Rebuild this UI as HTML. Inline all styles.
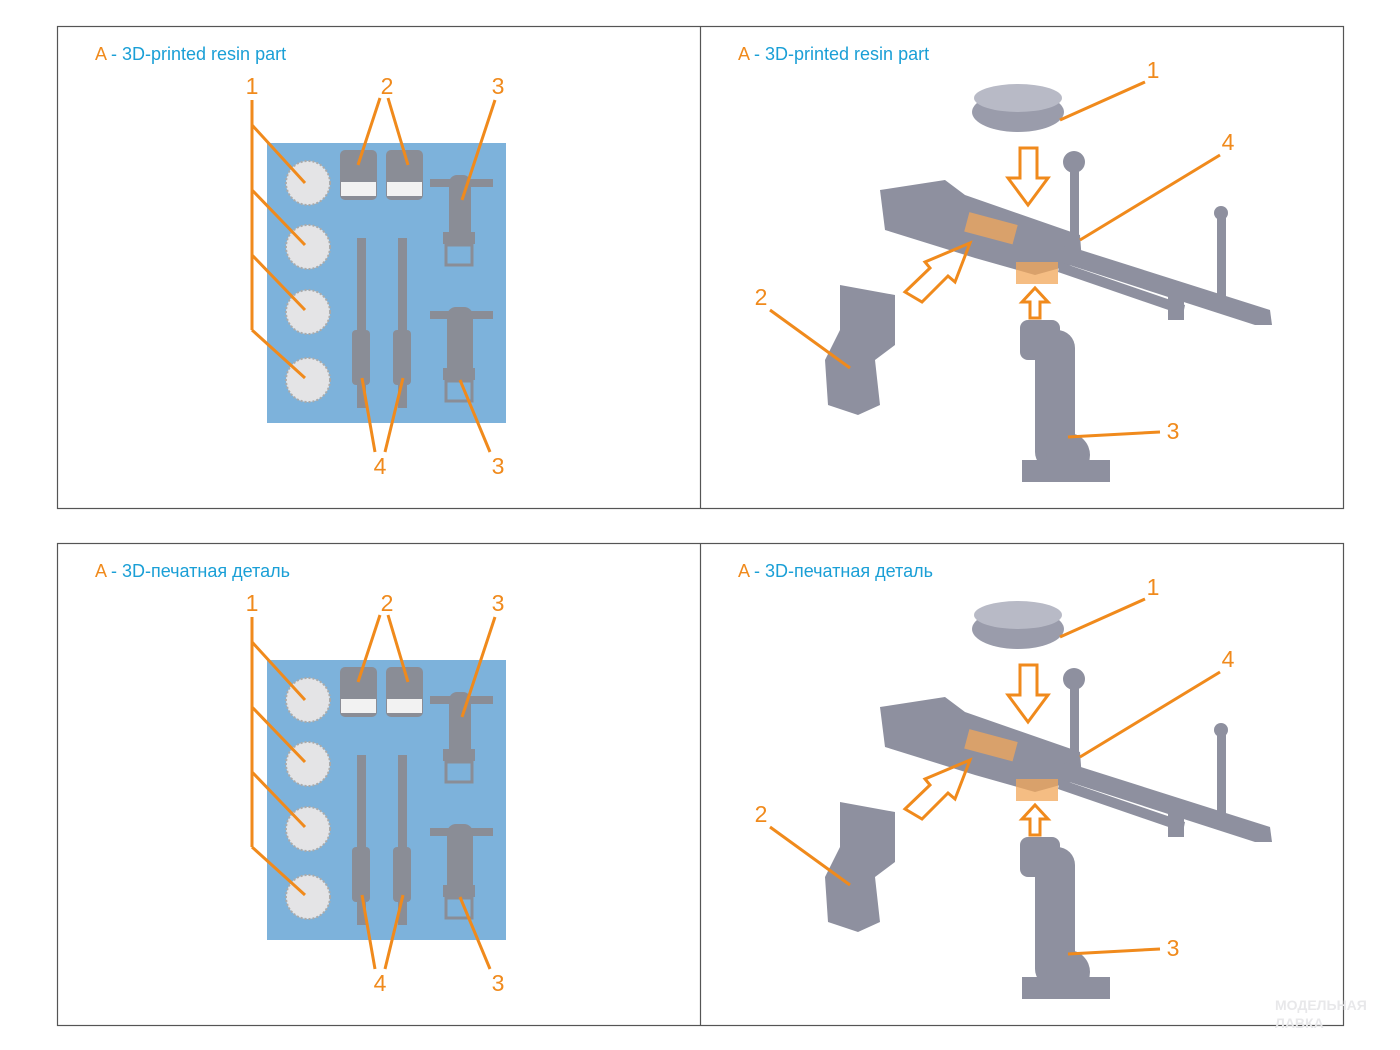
<!DOCTYPE html>
<html><head><meta charset="utf-8"><style>
html,body{margin:0;padding:0;background:#fff;}
svg{display:block;font-family:"Liberation Sans","Noto Sans CJK SC",sans-serif;}
</style></head><body>
<svg width="1400" height="1050" viewBox="0 0 1400 1050" xmlns="http://www.w3.org/2000/svg">
<defs>
<g id="pL">
  <rect x="267" y="143" width="239" height="280" fill="#7db2db"/>
  <g fill="#e4e4e6" stroke="#aaa" stroke-width="2" stroke-dasharray="2 2">
    <circle cx="308" cy="183" r="22"/><circle cx="308" cy="247" r="22"/>
    <circle cx="308" cy="312" r="22"/><circle cx="308" cy="380" r="22"/>
  </g>
  <g fill="#8a8d96">
    <rect x="340" y="150" width="37" height="50" rx="5"/><rect x="386" y="150" width="37" height="50" rx="5"/>
    <rect x="341" y="182" width="35" height="14" fill="#f2f2f2"/><rect x="387" y="182" width="35" height="14" fill="#f2f2f2"/>
    <rect x="357" y="238" width="9" height="170"/><rect x="398" y="238" width="9" height="170"/>
    <rect x="352" y="330" width="18" height="55" rx="4"/><rect x="393" y="330" width="18" height="55" rx="4"/>
    <rect x="430" y="179" width="63" height="8"/><rect x="449" y="175" width="22" height="70" rx="8"/>
    <rect x="443" y="232" width="32" height="12"/><rect x="446" y="245" width="26" height="20" fill="none" stroke="#8a8d96" stroke-width="3"/>
    <rect x="430" y="311" width="63" height="8"/><rect x="447" y="307" width="26" height="70" rx="9"/>
    <rect x="443" y="368" width="32" height="12"/><rect x="446" y="381" width="26" height="20" fill="none" stroke="#8a8d96" stroke-width="3"/>
  </g>
  <g stroke="#f08a1c" stroke-width="3" fill="none">
    <path d="M252 100 V330 M252 125 L305 183 M252 190 L305 245 M252 255 L305 310 M252 330 L305 378"/>
    <path d="M380 98 L358 165 M388 98 L408 165 M495 100 L462 200 M375 452 L362 378 M385 452 L403 378 M490 452 L460 380"/>
  </g>
</g>
<g id="pR">
  <ellipse cx="1018" cy="112" rx="46" ry="20" fill="#9a9cab"/>
  <ellipse cx="1018" cy="98" rx="44" ry="14" fill="#b8bac6"/>
  <g fill="#8e909f">
    <path d="M880 190 L945 180 L965 195 L1080 235 L1082 262 L1035 275 L975 258 L885 230 Z"/>
    <path d="M1065 245 L1270 310 L1272 325 L1255 325 L1060 262 Z"/>
    <path d="M1060 262 L1185 305 L1183 315 L1058 272 Z"/>
    <rect x="1070" y="170" width="9" height="80"/>
    <circle cx="1074" cy="162" r="11"/>
    <rect x="1217" y="215" width="9" height="95"/><circle cx="1221" cy="213" r="7"/>
    <rect x="1168" y="290" width="16" height="30"/>
    <path d="M840 285 L895 295 L895 345 L875 360 L880 405 L858 415 L828 405 L825 360 L840 330 Z"/>
    <rect x="1035" y="330" width="40" height="140" rx="18"/>
    <rect x="1020" y="320" width="40" height="40" rx="8"/>
    <rect x="1022" y="460" width="88" height="22"/>
    <circle cx="1068" cy="455" r="22"/>
  </g>
  <g fill="#f2a75a" fill-opacity="0.75">
    <rect x="966" y="218" width="50" height="20" transform="rotate(15 990 228)"/>
    <rect x="1016" y="262" width="42" height="22"/>
  </g>
  <g stroke="#f08a1c" stroke-width="3" fill="none" stroke-linejoin="miter">
    <path d="M1020 148 H1037 V178 H1048 L1028 205 L1008 178 H1020 Z"/>
    <path d="M1030 318 V302 H1022 L1035 288 L1048 302 H1040 V318 Z"/>
    <path d="M905 292 L930 268 L925 262 L970 243 L955 282 L948 276 L922 302 Z"/>
    <path d="M1145 82 L1060 120 M1220 155 L1080 240 M770 310 L850 368 M1160 432 L1068 437"/>
  </g>
</g>
</defs>
<g fill="none" stroke="#555" stroke-width="1.2">
  <rect x="57.5" y="26.5" width="1286" height="482"/><line x1="700.5" y1="26" x2="700.5" y2="508"/>
  <rect x="57.5" y="543.5" width="1286" height="482"/><line x1="700.5" y1="543" x2="700.5" y2="1025"/>
</g>
<use href="#pL"/><use href="#pR"/>
<use href="#pL" transform="translate(0 517)"/><use href="#pR" transform="translate(0 517)"/>
<g font-size="18">
  <text x="95" y="60"><tspan fill="#f08a1c">A</tspan><tspan fill="#1a9fd6"> - 3D-printed resin part</tspan></text>
  <text x="738" y="60"><tspan fill="#f08a1c">A</tspan><tspan fill="#1a9fd6"> - 3D-printed resin part</tspan></text>
  <text x="95" y="577"><tspan fill="#f08a1c">A</tspan><tspan fill="#1a9fd6"> - 3D-печатная деталь</tspan></text>
  <text x="738" y="577"><tspan fill="#f08a1c">A</tspan><tspan fill="#1a9fd6"> - 3D-печатная деталь</tspan></text>
</g>
<g font-size="23" fill="#f08a1c" text-anchor="middle">
  <text x="252" y="94">1</text><text x="387" y="94">2</text><text x="498" y="94">3</text>
  <text x="380" y="474">4</text><text x="498" y="474">3</text>
  <text x="1153" y="78">1</text><text x="1228" y="150">4</text><text x="761" y="305">2</text><text x="1173" y="439">3</text>
  <text x="252" y="611">1</text><text x="387" y="611">2</text><text x="498" y="611">3</text>
  <text x="380" y="991">4</text><text x="498" y="991">3</text>
  <text x="1153" y="595">1</text><text x="1228" y="667">4</text><text x="761" y="822">2</text><text x="1173" y="956">3</text>
</g>
<g fill="#e8e8ea" font-size="14" font-weight="bold">
  <text x="1275" y="1010">МОДЕЛЬНАЯ</text><text x="1275" y="1028">ЛАВКА</text>
</g>
</svg>
</body></html>
